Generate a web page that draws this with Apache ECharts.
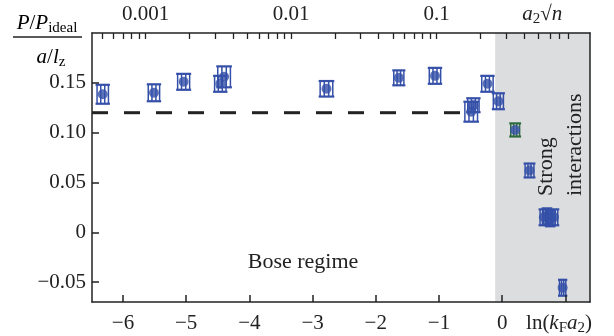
<!DOCTYPE html>
<html><head><meta charset="utf-8">
<script src="https://cdn.jsdelivr.net/npm/echarts@6/dist/echarts.min.js"></script>
<style>html,body{margin:0;padding:0;background:#fff}#c{width:614px;height:336px}</style>
</head><body><div id="c"></div>
<script>
// ---- data ----
const xVals   = [-6.32, -5.51, -5.04, -4.46, -4.40, -2.78, -1.635, -1.063, -0.49, -0.455, -0.233, -0.06, 0.206, 0.433, 0.66, 0.71, 0.76, 0.82, 0.957];
const yVals   = [0.1385, 0.140, 0.151, 0.149, 0.156, 0.144, 0.155, 0.157, 0.121, 0.1275, 0.149, 0.1315, 0.1027, 0.062, 0.015, 0.016, 0.014, 0.015, -0.0557];
const yErr    = [0.0095, 0.0085, 0.008, 0.008, 0.0105, 0.0078, 0.0075, 0.008, 0.010, 0.007, 0.008, 0.008, 0.0066, 0.007, 0.008, 0.008, 0.008, 0.008, 0.008];
const xSpread = [0.09, 0.09, 0.095, 0.09, 0.1, 0.1, 0.08, 0.09, 0.1, 0.09, 0.09, 0.08, 0.07, 0.07, 0.06, 0.06, 0.06, 0.06, 0.05];
const greenBars = [0,0,0,0,0,0,0,0,0,0,0,0,1,0,0,0,0,0,0];
const idealLevel = 0.12;
const dashedRange = [-6.49, -0.665];
const strongStart = -0.11;
const xRange = [-6.49, 1.39];
const yRange = [-0.07, 0.2];
const bottomTicks = [-6, -5, -4, -3, -2, -1, 0, 1];
const bottomLabels = ['−6', '−5', '−4', '−3', '−2', '−1', '0'];
const yTicks = [-0.05, 0, 0.05, 0.10, 0.15];
const yTickLabels = ['−0.05', '0', '0.05', '0.10', '0.15'];
const topDecadeLabels = [0.001, 0.01, 0.1];
const topDecadeText = ['0.001', '0.01', '0.1'];
const topMinor = [5e-4,6e-4,7e-4,8e-4,9e-4,1e-3,2e-3,3e-3,4e-3,5e-3,6e-3,7e-3,8e-3,9e-3,1e-2,2e-2,3e-2,4e-2,5e-2,6e-2,7e-2,8e-2,9e-2,0.1,0.2,0.3,0.4,0.5,0.6,0.7,0.8];
const lnOffset = Math.log(Math.sqrt(4*Math.PI)); // ln(kF a2) = ln(a2 sqrt n) + ln sqrt(4 pi)

const FONT = 'Liberation Serif';
const BLUE = '#3550a8', GREEN = '#2e6b3f', INK = '#222';

const topTickVals = topMinor.map(v => Math.log(v) + lnOffset);
const topLabelVals = topDecadeLabels.map(v => Math.log(v) + lnOffset).concat([0.633]);
const bottomLabelVals = bottomTicks.slice(0, 7).concat([0.9]);

const pts = xVals.map((x, i) => [x, yVals[i], yErr[i], xSpread[i], greenBars[i]]);

const chart = echarts.init(document.getElementById('c'));
const sub = {fontSize: 15, fontFamily: FONT, color: INK, lineHeight: 14, verticalAlign: 'bottom'};
const it = {fontStyle: 'italic', fontSize: 21, fontFamily: FONT, color: INK, lineHeight: 26};
const rm = {fontSize: 21, fontFamily: FONT, color: INK, lineHeight: 26};

chart.setOption({
  animation: false,
  grid: {left: 92, right: 24, top: 33, bottom: 31, containLabel: false},
  xAxis: [{
    type: 'value', min: xRange[0], max: xRange[1], position: 'bottom', z: 10,
    axisLine: {show: true, onZero: false, lineStyle: {color: INK, width: 1.5}},
    axisTick: {show: true, inside: true, length: 7, customValues: bottomTicks, lineStyle: {color: INK, width: 1.5}},
    splitLine: {show: false},
    axisLabel: {
      customValues: bottomLabelVals, margin: 8, color: INK, fontFamily: FONT, fontSize: 21,
      formatter: v => {
        const i = bottomLabelVals.findIndex(b => Math.abs(b - v) < 1e-6);
        if (i === 7) return '{r|ln(}{i|k}{s|F}{i|a}{s|2}{r|)}';
        return '{r|' + bottomLabels[i] + '}';
      },
      rich: {r: rm, i: it, s: sub}
    }
  }, {
    type: 'value', min: xRange[0], max: xRange[1], position: 'top', z: 10,
    axisLine: {show: true, onZero: false, lineStyle: {color: INK, width: 1.5}},
    axisTick: {show: true, inside: true, length: 6, customValues: topTickVals, lineStyle: {color: INK, width: 1.3}},
    splitLine: {show: false},
    axisLabel: {
      customValues: topLabelVals, margin: 6, color: INK, fontFamily: FONT, fontSize: 21,
      formatter: v => {
        const i = topLabelVals.findIndex(b => Math.abs(b - v) < 1e-6);
        if (i === 3) return '{i|a}{s|2}{r|√}{i|n}';
        return '{r|' + topDecadeText[i] + '}';
      },
      rich: {r: rm, i: it, s: sub}
    }
  }],
  yAxis: [{
    type: 'value', min: yRange[0], max: yRange[1], position: 'left', z: 10,
    axisLine: {show: true, onZero: false, lineStyle: {color: INK, width: 1.5}},
    axisTick: {show: true, inside: true, length: 7, customValues: yTicks, lineStyle: {color: INK, width: 1.5}},
    splitLine: {show: false},
    axisLabel: {
      customValues: yTicks, margin: 6, color: INK, fontFamily: FONT, fontSize: 21,
      formatter: v => {
        const i = yTicks.findIndex(b => Math.abs(b - v) < 1e-6);
        return yTickLabels[i];
      }
    }
  }, {
    type: 'value', min: yRange[0], max: yRange[1], position: 'right', z: 10,
    axisLine: {show: true, onZero: false, lineStyle: {color: INK, width: 1.5}},
    axisTick: {show: false}, axisLabel: {show: false}, splitLine: {show: false}
  }],
  series: [{
    type: 'line', xAxisIndex: 0, yAxisIndex: 0, z: 1,
    data: [[dashedRange[0], idealLevel], [dashedRange[1], idealLevel]],
    symbol: 'none', silent: true,
    lineStyle: {color: INK, width: 3, type: [16, 16]},
    markArea: {
      silent: true,
      itemStyle: {color: '#dcdddf'},
      data: [[{xAxis: strongStart, yAxis: yRange[0]}, {xAxis: xRange[1], yAxis: yRange[1]}]]
    }
  }, {
    type: 'custom', xAxisIndex: 0, yAxisIndex: 0, z: 3,
    data: pts,
    renderItem: (params, api) => {
      const x = api.value(0), y = api.value(1), ye = api.value(2), xs = api.value(3), g = api.value(4);
      const c = api.coord([x, y]);
      const top = api.coord([x, y + ye])[1], bot = api.coord([x, y - ye])[1];
      const l = api.coord([x - xs, y])[0], r = api.coord([x + xs, y])[0];
      const col = g ? GREEN : BLUE;
      const ch = [];
      [top, bot].forEach(yy => ch.push({type: 'line', shape: {x1: l - 1.5, y1: yy, x2: r + 1.5, y2: yy}, style: {stroke: col, lineWidth: 2.2}}));
      [-1, -0.35, 0.35, 1].forEach(f => {
        const xx = c[0] + f * (r - c[0]);
        ch.push({type: 'line', shape: {x1: xx, y1: top, x2: xx, y2: bot}, style: {stroke: col, lineWidth: 1.5}});
      });
      return {type: 'group', children: ch};
    }
  }, {
    type: 'scatter', xAxisIndex: 0, yAxisIndex: 0, z: 4,
    data: pts.map(p => [p[0], p[1]]),
    symbol: 'circle', symbolSize: 10,
    itemStyle: {color: BLUE}
  }],
  graphic: [
    {type: 'text', x: 47, y: 23, style: {
      text: '{i|P}{r|/}{i|P}{s|ideal}', rich: {i: it, r: rm, s: sub}, align: 'center', verticalAlign: 'middle'}},
    {type: 'line', shape: {x1: 13, y1: 37, x2: 82, y2: 37}, style: {stroke: INK, lineWidth: 1.3}},
    {type: 'text', x: 51, y: 57, style: {
      text: '{i|a}{r|/}{i|l}{s|z}', rich: {i: it, r: rm, s: sub}, align: 'center', verticalAlign: 'middle'}},
    {type: 'text', x: 303, y: 262, z: 20, style: {
      text: 'Bose regime', font: '22px "Liberation Serif"', fill: INK, align: 'center', verticalAlign: 'middle'}},
    {type: 'text', x: 546, y: 196, rotation: Math.PI / 2, z: 20, style: {
      text: 'Strong', font: '22px "Liberation Serif"', fill: INK, align: 'left', verticalAlign: 'middle'}},
    {type: 'text', x: 575, y: 196, rotation: Math.PI / 2, z: 20, style: {
      text: 'interactions', font: '22px "Liberation Serif"', fill: INK, align: 'left', verticalAlign: 'middle'}}
  ]
});
</script>
</body></html>
